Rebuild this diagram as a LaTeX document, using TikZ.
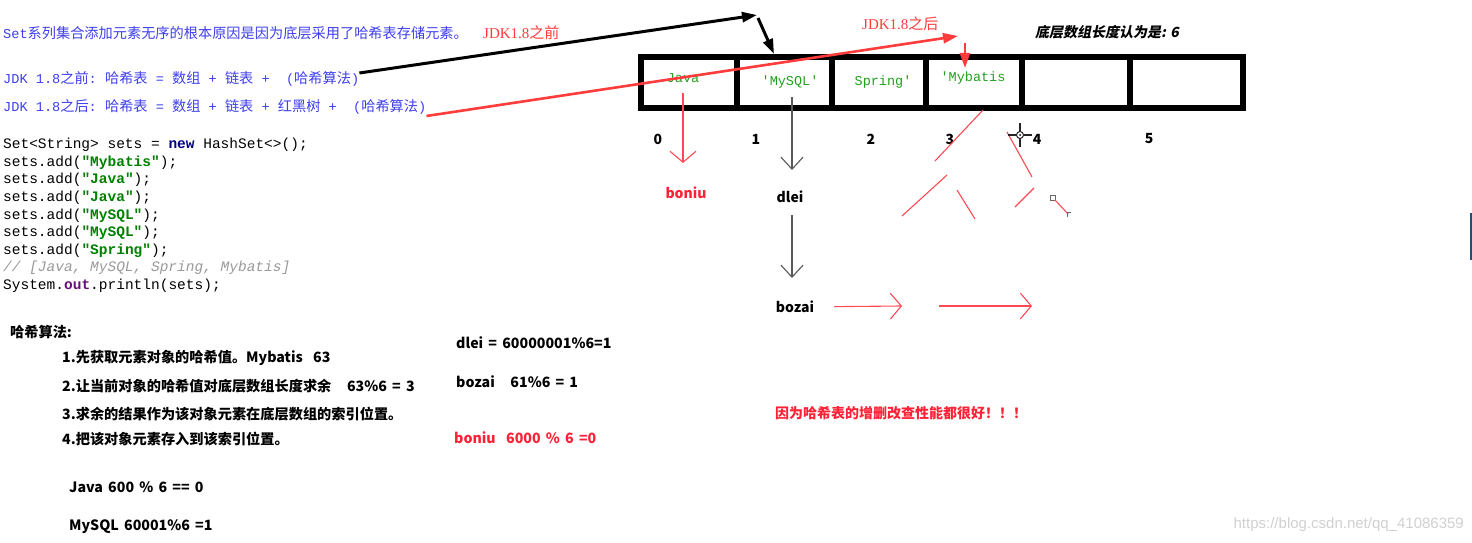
\documentclass[tikz,border=0pt]{standalone}
\usepackage{fontspec}
\setmainfont{Noto Sans CJK SC}[WordSpace=1.6]
\setmonofont{Liberation Mono}
\newfontfamily\enserif{Liberation Serif}
\newfontfamily\zhslant[FakeSlant=0.2]{Noto Sans CJK SC}
\newfontfamily\wmfont{Liberation Sans}
\usetikzlibrary{arrows.meta,positioning,calc}
\definecolor{setblue}{HTML}{3F3FF0}
\definecolor{jdkred}{HTML}{FF3B3B}
\definecolor{arrowred}{HTML}{FF3C3C}
\definecolor{thinred}{HTML}{FF4A55}
\definecolor{boldred}{HTML}{FF2236}
\definecolor{codegreen}{HTML}{008000}
\definecolor{cellgreen}{HTML}{22A022}
\definecolor{kwnavy}{HTML}{000080}
\definecolor{fieldpurple}{HTML}{660E7A}
\definecolor{commentgray}{HTML}{9A9A9A}
\definecolor{edgeblue}{HTML}{1F4E79}
\newcommand{\mn}[1]{{\fontsize{13.6}{16}\selectfont\ttfamily #1}}
\newcommand{\strg}[1]{{\bfseries\color{codegreen}#1}}

\begin{document}
\begin{tikzpicture}[
  x=1pt, y=-1pt,
  every node/.style={inner sep=0pt},
  blueline/.style={anchor=west, text=setblue, font=\fontsize{14.2}{16}\selectfont},
  jdklabel/.style={anchor=west, text=jdkred, font=\fontsize{15}{18}\selectfont},
  codeline/.style={anchor=west, font=\fontsize{14.5}{17}\selectfont\ttfamily},
  algline/.style={anchor=west, font=\fontsize{14.2}{17}\selectfont\bfseries},
  cell/.style={draw=black, line width=5.5pt, minimum height=51pt},
  celltext/.style={text=cellgreen, font=\fontsize{13.5}{16}\selectfont\ttfamily},
  idx/.style={font=\fontsize{14}{17}\selectfont\bfseries},
  chainname/.style={font=\fontsize{14}{17}\selectfont\bfseries},
  blackarrow/.style={-{Triangle[length=15pt,width=10pt]}, line width=3pt, draw=black},
  redarrow/.style={-{Triangle[length=15pt,width=10pt]}, line width=2.6pt, draw=arrowred},
  redthin/.style={-{Straight Barb[length=11pt,width=26pt]}, line width=1.1pt, draw=thinred},
  graythin/.style={-{Straight Barb[length=12pt,width=22pt]}, line width=1.1pt, draw=black!65},
  scribble/.style={line width=1.1pt, draw=thinred}
]
\fill[white] (0,0) rectangle (1472,543);
\useasboundingbox (0,0) rectangle (1472,543);

\node[blueline] (settitle) at (3,33) {\mn{Set}系列集合添加元素无序的根本原因是因为底层采用了哈希表存储元素。};
\node[jdklabel] (oldlabel) at (483,33) {{\enserif JDK1.8}之前};
\node[blueline] (jdkold) at (3,79) {\mn{JDK 1.8}之前\mn{: }哈希表\mn{ = }数组\mn{ + }链表\mn{ + \ (}哈希算法\mn{)}};
\node[blueline] (jdknew) at (3,107) {\mn{JDK 1.8}之后\mn{: }哈希表\mn{ = }数组\mn{ + }链表\mn{ + }红黑树\mn{ + \ (}哈希算法\mn{)}};

\foreach \txt [count=\i] in {
  {Set<String> sets = {\bfseries\color{kwnavy}new} HashSet<>();},
  {sets.add(\strg{"Mybatis"});},
  {sets.add(\strg{"Java"});},
  {sets.add(\strg{"Java"});},
  {sets.add(\strg{"MySQL"});},
  {sets.add(\strg{"MySQL"});},
  {sets.add(\strg{"Spring"});},
  {{\itshape\color{commentgray}// [Java, MySQL, Spring, Mybatis]}},
  {System.{\bfseries\color{fieldpurple}out}.println(sets);}}
  \node[codeline] (code\i) at (3,{145+17.6*(\i-1)}) {\txt};

\node[algline] (algtitle) at (10,332) {哈希算法:};
\node[algline] (alg1) at (62,358) {1.先获取元素对象的哈希值。Mybatis\ \ 63};
\node[algline] (alg2) at (62,386) {2.让当前对象的哈希值对底层数组长度求余\ \ \ 63\%6 = 3};
\node[algline] (alg3) at (62,414) {3.求余的结果作为该对象元素在底层数组的索引位置。};
\node[algline] (alg4) at (62,439) {4.把该对象元素存入到该索引位置。};
\node[algline] (javacalc) at (69,487) {Java 600 \% 6 == 0};
\node[algline] (mysqlcalc) at (69,527) {MySQL 60001\%6 =1};
\node[algline] (dleicalc) at (456,343) {dlei = 60000001\%6=1};
\node[algline] (bozaicalc) at (456,382) {bozai\ \ \ 61\%6 = 1};
\node[algline, text=boldred] (boniucalc) at (454,438) {boniu\ \ 6000 \% 6 =0};

\foreach \l/\r [count=\i from 0] in {641/737,737/832,832/926,926/1022,1022/1130,1130/1243}
  \node[cell, minimum width={(\r-\l)*1pt}] (cell\i) at ({(\l+\r)/2},82.5) {};

\node[celltext] (javatxt) at (683,78) {Java};
\node[celltext] (mysqltxt) at (790,82) {'MySQL'};
\node[celltext] (springtxt) at (883,82) {Spring'};
\node[celltext] (mybatistxt) at (973,78) {'Mybatis};

\foreach \x [count=\i from 0] in {658,756,871,950,1037,1149}
  \node[idx] (idx\i) at (\x,139) {\i};

\node[jdklabel] (newlabel) at (862,24) {{\enserif JDK1.8}之后};
\node[anchor=west, font=\zhslant\fontsize{14}{17}\selectfont\bfseries] (lengthnote) at (1035,32) {底层数组长度认为是: 6};

\node[chainname, text=boldred] (boniu) at (686,193) {boniu};
\node[chainname] (dlei) at (790,197) {dlei};
\node[chainname] (bozai) at (795,307) {bozai};

\node[anchor=west, font=\fontsize{14}{17}\selectfont\bfseries, text=boldred] (goodnote) at (775,413) {因为哈希表的增删改查性能都很好！！！};
\node[anchor=east, font=\wmfont\fontsize{15}{18}\selectfont, text=black!18] (watermark) at (1464,525) {https://blog.csdn.net/qq\_41086359};

\coordinate (blackbend) at (757,15);
\coordinate (mysqltop) at (774,54);
\coordinate (redtip) at (958,36);
\coordinate (redstart) at (965,43);
\coordinate (redstop) at (965,68);
\coordinate (chainA) at (902,306);
\coordinate (chainB) at (1032,306);

\draw[blackarrow] ([yshift=6pt]jdkold.east) -- (blackbend);
\draw[blackarrow] ([xshift=1pt,yshift=-3pt]blackbend) -- (mysqltop);
\draw[redarrow] ([yshift=-9pt]jdknew.east) -- (redtip);
\draw[redarrow] (redstart) -- (redstop);

\draw[redthin, shorten <=15pt, shorten >=30pt] (javatxt.center) -- (javatxt.center |- boniu.center);
\draw[graythin, shorten <=15pt, shorten >=27pt] ([xshift=2pt]mysqltxt.center) -- ([xshift=2pt]mysqltxt.center |- dlei.center);
\draw[graythin, shorten <=18pt, shorten >=29pt] ([xshift=2pt]dlei.center) -- ([xshift=2pt]dlei.center |- bozai.center);
\draw[redthin, shorten <=39pt] (bozai.center) -- (chainA);
\draw[redthin, shorten <=37pt] (chainA) -- (chainB);

\foreach \xa/\ya/\xb/\yb in {983/110/935/161, 947/175/902/216, 957/190/975/219, 1007/132/1032/177, 1034/188/1015/207}
  \draw[scribble] (\xa,\ya) -- (\xb,\yb);

\draw[black!60, line width=1pt] (1050,195) rectangle (1055,200);
\draw[scribble] (1055,200) -- (1068,214);
\draw[black!60, line width=1pt] (1067,217) -- (1067,212) -- (1071,212);

\draw[black!85, line width=1.6pt] (1020,123) -- (1020,147) (1008,135) -- (1032,135);
\draw[black!85, line width=1pt, fill=white] (1020,135) circle (3.5pt);
\fill[black] (1020,135) circle (1pt);

\draw[edgeblue, line width=1.5pt] (1471,213) -- (1471,260);
\end{tikzpicture}
\end{document}
